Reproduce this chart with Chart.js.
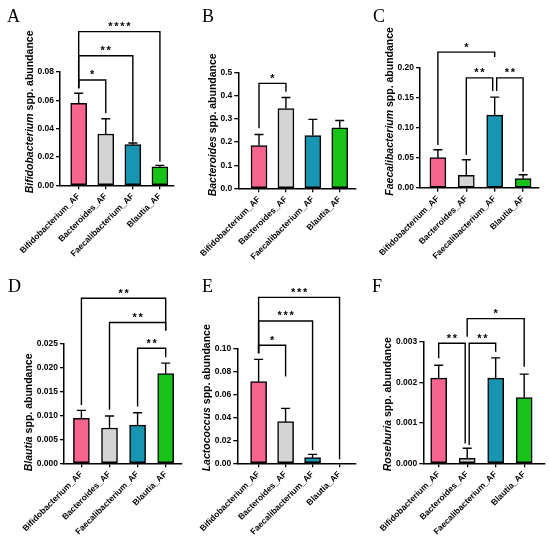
<!DOCTYPE html>
<html>
<head>
<meta charset="utf-8">
<script src="https://cdn.jsdelivr.net/npm/chart.js@4.4.1/dist/chart.umd.min.js"></script>
<style>
  html, body { margin: 0; padding: 0; background: #fff; }
  #wrap { position: relative; width: 550px; height: 550px; }
  #wrap canvas { position: absolute; }
</style>
</head>
<body>
<div id="wrap">
  <canvas id="chartA" width="183" height="270" style="left:0;top:0"></canvas>
  <canvas id="chartB" width="183" height="270" style="left:183px;top:0"></canvas>
  <canvas id="chartC" width="184" height="270" style="left:366px;top:0"></canvas>
  <canvas id="chartD" width="183" height="280" style="left:0;top:270px"></canvas>
  <canvas id="chartE" width="183" height="280" style="left:183px;top:270px"></canvas>
  <canvas id="chartF" width="184" height="280" style="left:366px;top:270px"></canvas>
</div>
<script>
// groups on the x axis (same order in every panel)
const categories = ['Bifidobacterium_AF', 'Bacteroides_AF', 'Faecalibacterium_AF', 'Blautia_AF'];
const barColors = ['#f7658f', '#d4d4d4', '#1795b1', '#18c318'];

// mean abundance and upper error (SEM)
const bifidoMean = [0.0579, 0.0362, 0.0287, 0.0131];
const bifidoErr = [0.0071, 0.0108, 0.0012, 0.0010];
const bacteroidesMean = [0.185, 0.345, 0.228, 0.262];
const bacteroidesErr = [0.048, 0.048, 0.070, 0.031];
const faecaliMean = [0.050, 0.0206, 0.121, 0.015];
const faecaliErr = [0.0133, 0.0261, 0.030, 0.0067];
const blautiaMean = [0.0094, 0.0074, 0.0080, 0.0188];
const blautiaErr = [0.0017, 0.0025, 0.0026, 0.0022];
const lactoMean = [0.071, 0.0362, 0.0049, 0.0];
const lactoErr = [0.0194, 0.0116, 0.0029, 0.0];
const roseMean = [0.00210, 0.00012, 0.00210, 0.00162];
const roseErr = [0.00032, 0.00025, 0.00050, 0.00058];

// significance brackets: [from, to, stars, bracket level, left leg end, right leg end] (y units)
const bifidoBrackets = [[0, 1, '*', 0.0744, 0.0685, 0.0508], [0, 2, '**', 0.0915, 0.0685, 0.0308], [0, 3, '****', 0.1085, 0.0685, 0.0167]];
const bacteroidesBrackets = [[0, 1, '*', 0.454, 0.26, 0.418]];
const faecaliBrackets = [[0, 2, '*', 0.226, 0.071, 0.218], [1, 2, '**', 0.183, 0.0545, 0.161], [2, 3, '**', 0.183, 0.161, 0.0267]];
const blautiaBrackets = [[0, 3, '**', 0.0346, 0.0122, 0.0279], [1, 3, '**', 0.0295, 0.0112, 0.0278], [2, 3, '**', 0.0241, 0.0119, 0.0222]];
const lactoBrackets = [[0, 1, '*', 0.1026, 0.0957, 0.0754], [0, 2, '***', 0.1238, 0.0957, 0.0116], [0, 3, '***', 0.1443, 0.0957, 0.0035]];
const roseBrackets = [[0, 1, '**', 0.00296, 0.00259, 0.00049], [1, 2, '**', 0.00296, 0.00045, 0.00275], [1, 3, '*', 0.00357, 0.00312, 0.00238]];

const SANS = "'Liberation Sans', Arial, sans-serif";
const SERIF = "'Liberation Serif', 'Times New Roman', serif";
const TICK_FONT = 8.5;

// error bars, brackets, panel letter and the mixed italic axis title
const panelDecor = {
  id: 'panelDecor',
  afterDatasetsDraw(chart, args, o) {
    const ctx = chart.ctx, xs = chart.scales.x, ys = chart.scales.y;
    ctx.save();
    ctx.strokeStyle = '#000';
    ctx.lineWidth = 1.4;
    o.means.forEach((m, i) => {
      if (!o.errs[i]) return;
      const x = xs.getPixelForValue(i);
      const yTop = ys.getPixelForValue(m + o.errs[i]);
      ctx.beginPath();
      ctx.moveTo(x, ys.getPixelForValue(m));
      ctx.lineTo(x, yTop);
      ctx.moveTo(x - 4.5, yTop);
      ctx.lineTo(x + 4.5, yTop);
      ctx.stroke();
    });
    ctx.restore();
  },
  afterDraw(chart, args, o) {
    const ctx = chart.ctx, xs = chart.scales.x, ys = chart.scales.y, area = chart.chartArea;
    ctx.save();
    ctx.strokeStyle = '#000';
    ctx.fillStyle = '#000';
    ctx.lineWidth = 1.4;
    o.brackets.forEach(b => {
      const [a, c, stars, level, legA, legC] = b;
      // two brackets meeting on the same bar at the same height get their legs pulled apart
      const nudgeA = o.brackets.some(k => k !== b && k[1] === a && k[3] === level) ? 2 : 0;
      const nudgeC = o.brackets.some(k => k !== b && k[0] === c && k[3] === level) ? -2 : 0;
      const xa = xs.getPixelForValue(a) + nudgeA, xc = xs.getPixelForValue(c) + nudgeC;
      const yl = ys.getPixelForValue(level);
      ctx.beginPath();
      ctx.moveTo(xa, ys.getPixelForValue(legA));
      ctx.lineTo(xa, yl);
      ctx.lineTo(xc, yl);
      ctx.lineTo(xc, ys.getPixelForValue(legC));
      ctx.stroke();
      ctx.font = 'bold 11px ' + SANS;
      ctx.textAlign = 'center';
      ctx.textBaseline = 'alphabetic';
      const mid = (xa + xc) / 2;
      for (let s = 0; s < stars.length; s++) {
        ctx.fillText('*', mid + (s - (stars.length - 1) / 2) * 6, yl - 1.5);
      }
    });

    // panel letter
    ctx.font = '18px ' + SERIF;
    ctx.textAlign = 'left';
    ctx.textBaseline = 'alphabetic';
    ctx.fillText(o.letter, o.letterX, 22);

    // y title sits just left of the widest tick label
    ctx.font = 'bold ' + TICK_FONT + 'px ' + SANS;
    const labW = Math.max(...ys.ticks.map(t => ctx.measureText(String(t.label)).width));
    const titleX = area.left - 6 - labW - 7.5;

    // italic genus + plain rest
    ctx.translate(titleX, area.bottom + 8);
    ctx.rotate(-Math.PI / 2);
    ctx.textBaseline = 'middle';
    ctx.font = 'italic bold 10.5px ' + SANS;
    ctx.fillText(o.genus, 0, 0);
    const w = ctx.measureText(o.genus).width;
    ctx.font = 'bold 10.5px ' + SANS;
    ctx.fillText(' spp. abundance', w, 0);
    ctx.restore();
  }
};

function makePanel(p) {
  const canvas = document.getElementById(p.id);
  const W = canvas.width, H = canvas.height, box = p.box;
  new Chart(canvas, {
    type: 'bar',
    data: {
      datasets: [{
        data: p.means.map((v, i) => ({ x: i, y: v })),
        backgroundColor: barColors,
        borderColor: '#000',
        borderWidth: 1.5,
        borderSkipped: false,
        barThickness: 16
      }]
    },
    options: {
      responsive: false,
      animation: false,
      layout: { padding: { left: 0, top: box.top, right: W - box.right, bottom: 0 } },
      plugins: {
        legend: { display: false },
        tooltip: { enabled: false },
        panelDecor: { means: p.means, errs: p.errs, brackets: p.brackets, letter: p.letter, letterX: p.letterX, genus: p.genus }
      },
      scales: {
        x: {
          type: 'linear',
          min: box.xMin,
          max: box.xMax,
          offset: false,
          ticks: {
            stepSize: 1, autoSkip: false, includeBounds: false,
            minRotation: 45, maxRotation: 45, padding: 2,
            color: '#000', font: { family: SANS, size: TICK_FONT, weight: 'bold' },
            callback: v => categories[Math.round(v)] || ''
          },
          grid: { display: true, offset: false, drawOnChartArea: false, tickLength: 4, color: '#000', lineWidth: 1.3 },
          border: { display: true, color: '#000', width: 1.5 },
          afterFit: s => { s.height = H - box.bottom; }
        },
        y: {
          min: 0,
          max: p.yMax,
          ticks: {
            stepSize: p.yStep, padding: 2,
            color: '#000', font: { family: SANS, size: TICK_FONT, weight: 'bold' },
            callback: v => Number(v).toFixed(p.decimals)
          },
          grid: { display: true, drawOnChartArea: false, tickLength: 4, color: '#000', lineWidth: 1.3 },
          border: { display: true, color: '#000', width: 1.5 },
          afterFit: s => { s.width = box.left; }
        }
      }
    },
    plugins: [panelDecor]
  });
}

makePanel({ id: 'chartA', letter: 'A', letterX: 7, genus: 'Bifidobacterium', means: bifidoMean, errs: bifidoErr, brackets: bifidoBrackets,
  yMax: 0.08, yStep: 0.02, decimals: 2, box: { left: 60, top: 72, right: 174, bottom: 185.3, xMin: -0.69, xMax: 3.52 } });
makePanel({ id: 'chartB', letter: 'B', letterX: 19, genus: 'Bacteroides', means: bacteroidesMean, errs: bacteroidesErr, brackets: bacteroidesBrackets,
  yMax: 0.5, yStep: 0.1, decimals: 1, box: { left: 55.3, top: 72.7, right: 172.9, bottom: 188.3, xMin: -0.77, xMax: 3.6 } });
makePanel({ id: 'chartC', letter: 'C', letterX: 7, genus: 'Faecalibacterium', means: faecaliMean, errs: faecaliErr, brackets: faecaliBrackets,
  yMax: 0.2, yStep: 0.05, decimals: 2, box: { left: 54, top: 67.7, right: 173, bottom: 187.7, xMin: -0.63, xMax: 3.56 } });
makePanel({ id: 'chartD', letter: 'D', letterX: 8, genus: 'Blautia', means: blautiaMean, errs: blautiaErr, brackets: blautiaBrackets,
  yMax: 0.025, yStep: 0.005, decimals: 3, box: { left: 64, top: 74, right: 181.7, bottom: 193.3, xMin: -0.62, xMax: 3.57 } });
makePanel({ id: 'chartE', letter: 'E', letterX: 19, genus: 'Lactococcus', means: lactoMean, errs: lactoErr, brackets: lactoBrackets,
  yMax: 0.1, yStep: 0.02, decimals: 2, box: { left: 54.3, top: 78.3, right: 173, bottom: 193.3, xMin: -0.79, xMax: 3.61 } });
makePanel({ id: 'chartF', letter: 'F', letterX: 6, genus: 'Roseburia', means: roseMean, errs: roseErr, brackets: roseBrackets,
  yMax: 0.003, yStep: 0.001, decimals: 3, box: { left: 57.3, top: 71.7, right: 179, bottom: 193.3, xMin: -0.54, xMax: 3.73 } });
</script>
</body>
</html>
